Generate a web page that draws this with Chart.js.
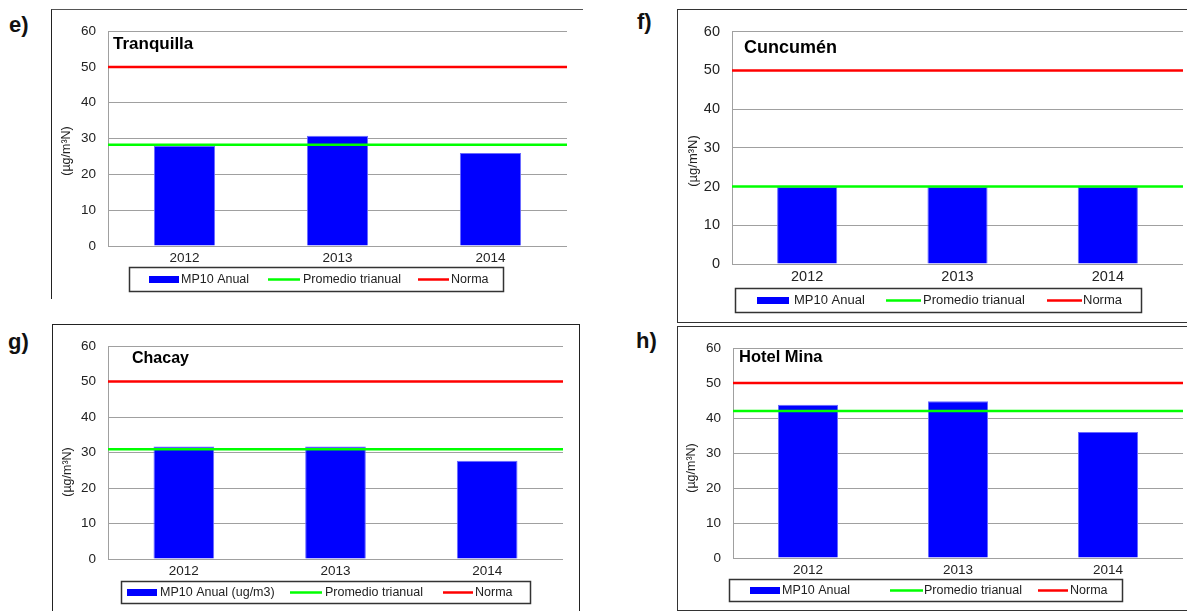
<!DOCTYPE html>
<html>
<head>
<meta charset="utf-8">
<script src="https://cdn.jsdelivr.net/npm/chart.js@4.4.1/dist/chart.umd.min.js"></script>
<style>
  body { margin: 0; background: #fff; font-family: "Liberation Sans", Arial, sans-serif; }
  #page { position: relative; width: 1187px; height: 611px; overflow: hidden; }
  .frame { position: absolute; box-sizing: border-box; }
  .tag { position: absolute; font-weight: bold; font-size: 22px; line-height: 22px; color: #111; }
  canvas { position: absolute; }
</style>
</head>
<body>
<div id="page">
  <div class="frame" style="left:51px;top:9px;width:532px;height:290px;border-left:1px solid #222;border-top:1px solid #555"></div>
  <div class="frame" style="left:677px;top:9px;width:520px;height:314px;border:1px solid #333"></div>
  <div class="frame" style="left:52px;top:324px;width:528px;height:300px;border:1px solid #222"></div>
  <div class="frame" style="left:677px;top:326px;width:520px;height:285px;border:1px solid #333"></div>

  <div class="tag" style="left:9px;top:14px">e)</div>
  <div class="tag" style="left:637px;top:11px">f)</div>
  <div class="tag" style="left:8px;top:331px">g)</div>
  <div class="tag" style="left:636px;top:330px">h)</div>

  <canvas id="tranquilla" width="530" height="287" style="left:52px;top:11px"></canvas>
  <canvas id="cuncumen" width="509" height="311" style="left:678px;top:11px"></canvas>
  <canvas id="chacay" width="525" height="285" style="left:53px;top:326px"></canvas>
  <canvas id="hotelMina" width="509" height="281" style="left:678px;top:328px"></canvas>
</div>
<script>
// MP10 annual means per station (µg/m³N)
const years = ['2012', '2013', '2014'];
const tranquillaMp10 = [28.0, 30.8, 26.0];
const cuncumenMp10 = [19.9, 19.9, 19.9];
const chacayMp10 = [31.7, 31.7, 27.7];
const hotelMinaMp10 = [43.8, 44.8, 36.0];

// three-year averages and the annual standard
const tranquillaPromedio = 28.3;
const cuncumenPromedio = 20.0;
const chacayPromedio = 30.9;
const hotelMinaPromedio = 42.0;
const norma = 50;

const yMin = 0, yMax = 60, yStep = 10;

Chart.defaults.font.family = "'Liberation Sans', Arial, sans-serif";
Chart.defaults.color = '#222';

// station name, rotated unit label and the boxed legend are drawn here
const panelDecor = {
  id: 'panelDecor',
  afterDraw(chart, args, opts) {
    const ctx = chart.ctx;
    ctx.save();

    ctx.fillStyle = '#000';
    ctx.font = 'bold ' + opts.title.size + 'px "Liberation Sans", Arial, sans-serif';
    ctx.textAlign = 'left';
    ctx.textBaseline = 'alphabetic';
    ctx.fillText(opts.title.text, opts.title.x, opts.title.y);

    ctx.save();
    ctx.translate(opts.yTitle.x, opts.yTitle.y);
    ctx.rotate(-Math.PI / 2);
    ctx.fillStyle = '#222';
    ctx.font = opts.yTitle.size + 'px "Liberation Sans", Arial, sans-serif';
    ctx.textAlign = 'center';
    ctx.textBaseline = 'middle';
    ctx.fillText('(µg/m³N)', 0, 0);
    ctx.restore();

    const lg = opts.legend;
    ctx.strokeStyle = '#333';
    ctx.lineWidth = 1.5;
    ctx.strokeRect(lg.x + 0.5, lg.y + 0.5, lg.w, lg.h);
    const cy = lg.y + lg.h / 2 + 0.5;
    ctx.font = lg.size + 'px "Liberation Sans", Arial, sans-serif';
    ctx.textBaseline = 'middle';
    chart.data.datasets.forEach((ds, i) => {
      const it = lg.items[i];
      if (ds.type === 'bar') {
        ctx.fillStyle = ds.backgroundColor;
        ctx.fillRect(it.x0, cy - 3.5, it.x1 - it.x0, 7);
      } else {
        ctx.strokeStyle = ds.borderColor;
        ctx.lineWidth = 2.5;
        ctx.beginPath();
        ctx.moveTo(it.x0, cy);
        ctx.lineTo(it.x1, cy);
        ctx.stroke();
      }
      ctx.fillStyle = '#222';
      ctx.fillText(ds.label, it.tx, cy);
    });
    ctx.restore();
  }
};

function makePanel(p) {
  const canvas = document.getElementById(p.id);
  const W = canvas.width, H = canvas.height;
  return new Chart(canvas, {
    type: 'bar',
    data: {
      labels: years,
      datasets: [
        {
          type: 'bar', label: p.barLabel, data: p.values,
          backgroundColor: '#0000ff', borderColor: '#6a6aff', borderWidth: 1,
          grouped: false, barPercentage: 0.8, categoryPercentage: 0.5,
          xAxisID: 'x', yAxisID: 'y', order: 3
        },
        {
          type: 'line', label: 'Promedio trianual',
          data: [{ x: 0, y: p.promedio }, { x: 1, y: p.promedio }],
          borderColor: '#00ff00', borderWidth: 2.5, pointRadius: 0,
          xAxisID: 'x2', yAxisID: 'y', order: 2
        },
        {
          type: 'line', label: 'Norma',
          data: [{ x: 0, y: norma }, { x: 1, y: norma }],
          borderColor: '#ff0000', borderWidth: 2.5, pointRadius: 0,
          xAxisID: 'x2', yAxisID: 'y', order: 1
        }
      ]
    },
    options: {
      responsive: false,
      devicePixelRatio: 1,
      animation: false,
      events: [],
      layout: {
        padding: { left: 0, top: p.plot.top, right: W - p.plot.right, bottom: 0 }
      },
      scales: {
        x: {
          type: 'category',
          position: 'bottom',
          grid: { display: false, drawTicks: false },
          border: { display: false },
          ticks: { padding: p.xPad, color: '#222', font: { size: p.tickSize } },
          afterFit(scale) { scale.height = H - p.plot.bottom; }
        },
        // hidden 0..1 axis so the reference lines span the whole plot width
        x2: { type: 'linear', position: 'bottom', min: 0, max: 1, offset: false, display: false },
        y: {
          min: yMin, max: yMax,
          grid: { color: '#a0a0a0', lineWidth: 1, drawTicks: false },
          border: { color: '#a0a0a0', width: 1 },
          ticks: { stepSize: yStep, padding: 12, color: '#222', font: { size: p.tickSize } },
          afterFit(scale) { scale.width = p.plot.left; }
        }
      },
      plugins: {
        legend: { display: false },
        tooltip: { enabled: false },
        panelDecor: p.decor
      }
    },
    plugins: [panelDecor]
  });
}

makePanel({
  id: 'tranquilla', values: tranquillaMp10, promedio: tranquillaPromedio, barLabel: 'MP10 Anual',
  plot: { left: 56, right: 515, top: 14, bottom: 235 }, tickSize: 13.5, xPad: 4,
  decor: {
    title: { text: 'Tranquilla', x: 61, y: 38, size: 17 },
    yTitle: { x: 15, y: 140, size: 12.5 },
    legend: {
      x: 77, y: 256, w: 374, h: 24, size: 12.5,
      items: [{ x0: 97, x1: 127, tx: 129 }, { x0: 216, x1: 248, tx: 251 }, { x0: 366, x1: 397, tx: 399 }]
    }
  }
});

makePanel({
  id: 'cuncumen', values: cuncumenMp10, promedio: cuncumenPromedio, barLabel: 'MP10 Anual',
  plot: { left: 54, right: 505, top: 15, bottom: 253 }, tickSize: 14.5, xPad: 4,
  decor: {
    title: { text: 'Cuncumén', x: 66, y: 42, size: 18 },
    yTitle: { x: 15, y: 150, size: 13 },
    legend: {
      x: 57, y: 277, w: 406, h: 24, size: 13,
      items: [{ x0: 79, x1: 111, tx: 116 }, { x0: 208, x1: 243, tx: 245 }, { x0: 369, x1: 404, tx: 405 }]
    }
  }
});

makePanel({
  id: 'chacay', values: chacayMp10, promedio: chacayPromedio, barLabel: 'MP10 Anual (ug/m3)',
  plot: { left: 55, right: 510, top: 13, bottom: 233 }, tickSize: 13.5, xPad: 4,
  decor: {
    title: { text: 'Chacay', x: 79, y: 37, size: 16 },
    yTitle: { x: 14.5, y: 146, size: 12.5 },
    legend: {
      x: 68, y: 255, w: 409, h: 22, size: 12.5,
      items: [{ x0: 74, x1: 104, tx: 107 }, { x0: 237, x1: 269, tx: 272 }, { x0: 390, x1: 420, tx: 422 }]
    }
  }
});

makePanel({
  id: 'hotelMina', values: hotelMinaMp10, promedio: hotelMinaPromedio, barLabel: 'MP10 Anual',
  plot: { left: 55, right: 505, top: 13, bottom: 230 }, tickSize: 13.5, xPad: 4,
  decor: {
    title: { text: 'Hotel Mina', x: 61, y: 34, size: 16.5 },
    yTitle: { x: 14, y: 140, size: 12.5 },
    legend: {
      x: 51, y: 251, w: 393, h: 22, size: 12.5,
      items: [{ x0: 72, x1: 102, tx: 104 }, { x0: 212, x1: 245, tx: 246 }, { x0: 360, x1: 390, tx: 392 }]
    }
  }
});
</script>
</body>
</html>
